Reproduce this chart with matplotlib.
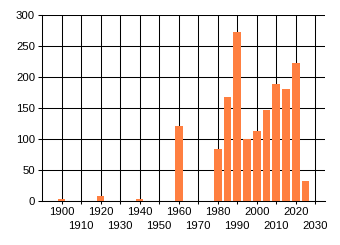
import matplotlib
matplotlib.use('Agg')
import matplotlib.pyplot as plt

# data
years = [1900, 1920, 1940, 1960, 1980, 1985, 1990, 1995, 2000, 2005, 2010, 2015, 2020, 2025]
counts = [3, 9, 3, 121, 84, 168, 273, 101, 113, 148, 189, 181, 223, 33]
major_ticks = [1900, 1920, 1940, 1960, 1980, 2000, 2020]
minor_ticks = [1910, 1930, 1950, 1970, 1990, 2010, 2030]
y_ticks = [0, 50, 100, 150, 200, 250, 300]

plt.rcParams['font.family'] = ['Liberation Sans', 'DejaVu Sans']
plt.rcParams['font.size'] = 8.2

fig = plt.figure(figsize=(3.4, 2.45), dpi=100)
ax = fig.add_axes([42 / 340, 43.7 / 245, 283 / 340, 186 / 245])

ax.bar(years, counts, width=4, color='#FF7F40', zorder=3)

ax.set_xlim(1890, 2035)
ax.set_ylim(0, 300)
ax.set_yticks(y_ticks)
ax.set_xticks(major_ticks)
ax.set_xticks(minor_ticks, minor=True)
ax.set_xticklabels([str(t) for t in major_ticks])
ax.set_xticklabels([str(t) for t in minor_ticks], minor=True)

ax.grid(True, which='both', color='black', linewidth=0.75)
ax.set_axisbelow(True)

ax.tick_params(axis='x', which='major', length=2, width=0.75, pad=2)
ax.tick_params(axis='x', which='minor', length=2, width=0.75, pad=12.5)
ax.tick_params(axis='y', length=3, width=0.75, pad=2)

for s in ['top', 'right']:
    ax.spines[s].set_visible(False)
for s in ['left', 'bottom']:
    ax.spines[s].set_linewidth(0.75)

plt.savefig('out.png', dpi=100)
